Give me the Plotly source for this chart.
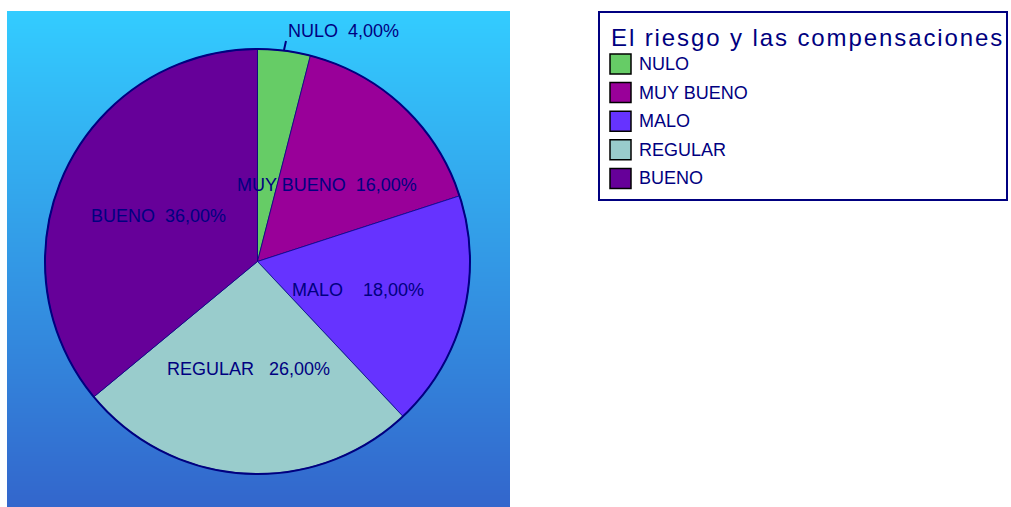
import plotly.graph_objects as go

# data
labels = ["NULO", "MUY BUENO", "MALO", "REGULAR", "BUENO"]
values = [4, 16, 18, 26, 36]
colors = ["#66CC66", "#990099", "#6633FF", "#99CCCC", "#660099"]
legend_title = "El riesgo y las compensaciones"

W, H = 1011, 507
NAVY = "#000080"
FONT = "Arial, Liberation Sans, sans-serif"


def px(x):
    return x / W


def py(y):
    return 1 - y / H


fig = go.Figure()

# gradient backdrop behind the pie (heatmap with smooth interpolation)
fig.add_trace(go.Heatmap(
    x=[0, 1], y=[0, 1], z=[[1, 1], [0, 0]],
    colorscale=[[0, "#33CCFF"], [1, "#3366CC"]],
    zsmooth="best", showscale=False, hoverinfo="skip",
))

fig.add_trace(go.Pie(
    labels=labels, values=values,
    marker=dict(colors=colors, line=dict(color=NAVY, width=0.7)),
    sort=False, direction="clockwise", rotation=0,
    textinfo="none", showlegend=False,
    domain=dict(x=[px(45), px(470)], y=[py(474), py(49)]),
))

# slice labels  (label, value %, center x, center y, gap)
pct = [f"{v:.2f}".replace(".", ",") + "%" for v in values]
label_pos = [(343, 31, 2), (327, 185, 2), (358, 290, 4), (248, 369, 3), (158, 216, 2)]
annotations = []
for lab, p, (x, y, g) in zip(labels, pct, label_pos):
    annotations.append(dict(
        x=px(x), y=py(y), xref="paper", yref="paper", showarrow=False,
        text=lab + "\u00a0" * g + p, xanchor="center", yanchor="middle",
        font=dict(family=FONT, size=18, color=NAVY),
    ))

shapes = [
    # pie outline
    dict(type="circle", xref="paper", yref="paper",
         x0=px(45), x1=px(470), y0=py(474), y1=py(49),
         line=dict(color=NAVY, width=2), layer="above"),
    # leader line for NULO
    dict(type="line", xref="paper", yref="paper",
         x0=px(284), y0=py(50), x1=px(286), y1=py(41),
         line=dict(color=NAVY, width=2)),
    # legend box
    dict(type="rect", xref="paper", yref="paper",
         x0=px(599), x1=px(1007), y0=py(200), y1=py(12),
         line=dict(color=NAVY, width=2), fillcolor="white", layer="below"),
]

# legend title
annotations.append(dict(
    x=px(609), y=py(38), xref="paper", yref="paper", showarrow=False,
    text=f'<span style="letter-spacing:1.9px">{legend_title}</span>',
    xanchor="left", yanchor="middle",
    font=dict(family=FONT, size=24, color=NAVY),
))

# legend entries
for i, (lab, c) in enumerate(zip(labels, colors)):
    yc = 64 + i * 28.6
    shapes.append(dict(
        type="rect", xref="paper", yref="paper",
        x0=px(610), x1=px(631), y0=py(yc + 10), y1=py(yc - 10),
        fillcolor=c, line=dict(color="black", width=1.5), layer="above",
    ))
    annotations.append(dict(
        x=px(637), y=py(yc), xref="paper", yref="paper", showarrow=False,
        text=lab, xanchor="left", yanchor="middle",
        font=dict(family=FONT, size=18, color=NAVY),
    ))

fig.update_layout(
    width=W, height=H,
    margin=dict(l=0, r=0, t=0, b=0),
    paper_bgcolor="white", plot_bgcolor="white",
    xaxis=dict(domain=[px(7), px(510)], range=[0, 1], visible=False, fixedrange=True),
    yaxis=dict(domain=[0, py(11)], range=[0, 1], visible=False, fixedrange=True),
    shapes=shapes, annotations=annotations,
    showlegend=False,
)

fig.write_html("out.html", config={"displayModeBar": False},
               post_script="document.body.style.margin='0';")
